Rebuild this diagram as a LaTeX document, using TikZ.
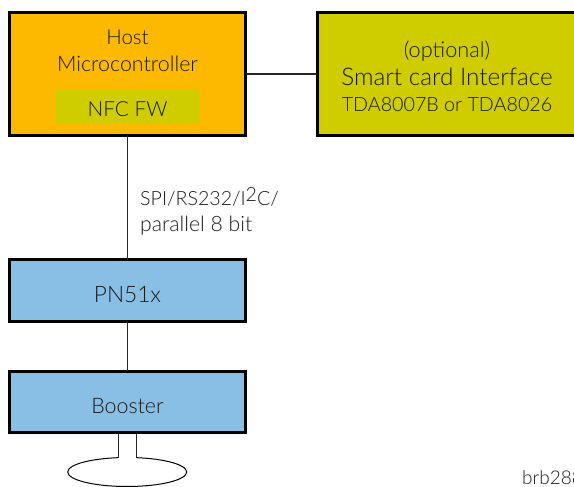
\documentclass[tikz,border=0pt]{standalone}
\usetikzlibrary{shapes.geometric}
\usepackage{fontspec}
\setmainfont{Lato}[UprightFont={* Light}]
\definecolor{hostfill}{HTML}{FDB900}
\definecolor{olive}{HTML}{CFCD00}
\definecolor{chip}{HTML}{89BFE4}
\definecolor{ink}{HTML}{1A1A1A}
\tikzset{
  box/.style={draw=black,line width=3pt,inner sep=0pt,outer sep=0pt,minimum width=236pt,minimum height=#1},
  lbl/.style={anchor=base,inner sep=0pt,text=ink,font=\fontsize{#1}{#1}\selectfont},
  conn/.style={draw=black!85,line width=1.15pt},
  stem/.style={draw=black!85,line width=1pt}
}
\begin{document}
\begin{tikzpicture}[x=1pt,y=-1pt]
\useasboundingbox (0,0) rectangle (574,487);
\clip (0,0) rectangle (574,487);
\node[box=123pt,fill=hostfill] (host) at (127.5,74) {};
\node[fill=olive,inner sep=0pt,minimum width=143pt,minimum height=35pt] (fw) at (127.5,106.5) {};
\node[box=123pt,minimum width=260pt,fill=olive] (smart) at (447,74) {};
\node[box=61.5pt,fill=chip] (pn) at (127.5,290.7) {};
\node[box=61.5pt,fill=chip] (boost) at (127.5,402.2) {};
\node[draw=black,line width=1pt,ellipse,inner sep=0pt,outer sep=0pt,minimum width=119pt,minimum height=29pt,fill=white] (ant) at (127.2,472) {};
\coordinate (sl) at (118,434);
\coordinate (sr) at (136.5,434);
\coordinate (el) at (118,458);
\coordinate (er) at (136.5,458);
\draw[white,line width=2pt] (el) -- (er);
\draw[stem] (sl) -- (el);
\draw[stem] (sr) -- (er);
\draw[conn] (host) -- (smart);
\draw[conn] (host) -- (pn);
\draw[conn] (pn) -- (boost);
\node[lbl=20.5] (t1) at (127.5,44.5) {Host};
\node[lbl=21.4] (t2) at (127.5,71.5) {Microcontroller};
\node[lbl=20.8] (t3) at (127.5,116.5) {NFC FW};
\node[lbl=21.7] (t4) at (447,58) {(optional)};
\node[lbl=24.3] (t5) at (447,86) {Smart card Interface};
\node[lbl=19.7] (t6) at (447,112) {TDA8007B or TDA8026};
\node[lbl=22.7] (t7) at (127.5,302) {PN51x};
\node[lbl=21.4] (t8) at (127.5,413) {Booster};
\node[lbl=19.6,anchor=base west] (t9) at (140,205) {SPI/RS232/I\raisebox{4pt}{2}C/};
\node[lbl=21.2,anchor=base west] (t10) at (140,232) {parallel 8 bit};
\node[lbl=19,anchor=base west] (t11) at (522,484) {brb288};
\end{tikzpicture}
\end{document}
